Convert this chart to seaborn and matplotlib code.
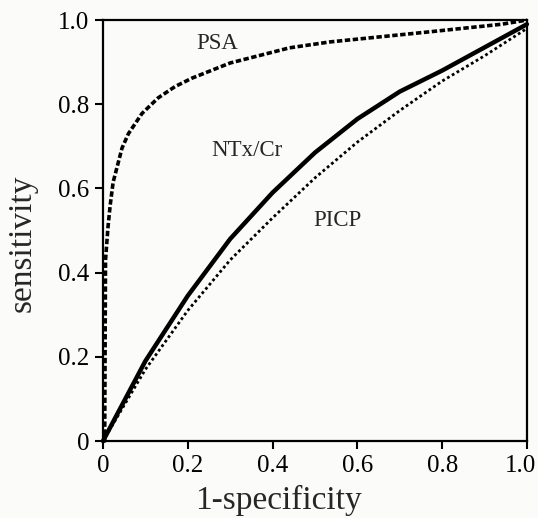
import numpy as np
import pandas as pd
import matplotlib
matplotlib.use("Agg")
import matplotlib.pyplot as plt
import matplotlib.transforms as mtransforms
import seaborn as sns

# ROC curves
psa_fpr = [0.0, 0.004, 0.006, 0.012, 0.017, 0.024, 0.045, 0.06, 0.092, 0.13, 0.17, 0.21, 0.30, 0.44, 0.535, 0.77, 0.94, 1.0]
psa_tpr = [0.0, 0.0, 0.43, 0.51, 0.56, 0.615, 0.696, 0.73, 0.778, 0.815, 0.842, 0.862, 0.898, 0.934, 0.948, 0.972, 0.99, 1.0]

ntx_fpr = [0.0, 0.1, 0.2, 0.3, 0.4, 0.5, 0.6, 0.7, 0.8, 0.9, 1.0]
ntx_tpr = [0.0, 0.19, 0.345, 0.48, 0.59, 0.685, 0.765, 0.83, 0.88, 0.935, 0.99]

picp_fpr = [0.0, 0.1, 0.2, 0.3, 0.4, 0.5, 0.6, 0.7, 0.8, 0.9, 1.0]
picp_tpr = [0.0, 0.17, 0.31, 0.43, 0.53, 0.625, 0.71, 0.785, 0.855, 0.915, 0.98]

tick_vals = [0, 0.2, 0.4, 0.6, 0.8, 1.0]
tick_text = ["0", "0.2", "0.4", "0.6", "0.8", "1.0"]

sns.set_style("ticks")
plt.rcParams['font.family'] = ['Liberation Serif', 'DejaVu Serif']

fig = plt.figure(figsize=(5.38, 5.18), dpi=100, facecolor="#fbfbfa")
ax = fig.add_axes([0.1914, 0.1486, 0.788, 0.8127])
ax.set_facecolor("#fbfbfa")

sns.lineplot(x=psa_fpr, y=psa_tpr, ax=ax, color="black", lw=2.6,
             linestyle=(0, (1.5, 0.7)), sort=False, estimator=None, clip_on=False)
sns.lineplot(x=ntx_fpr, y=ntx_tpr, ax=ax, color="black", lw=3.2,
             sort=False, estimator=None, clip_on=False)
sns.lineplot(x=picp_fpr, y=picp_tpr, ax=ax, color="black", lw=2.0,
             linestyle=(0, (1, 1)), sort=False, estimator=None, clip_on=False)

ax.set_xlim(0, 1)
ax.set_ylim(0, 1)
ax.set_xticks(tick_vals)
ax.set_xticklabels(tick_text)
ax.set_yticks(tick_vals)
ax.set_yticklabels(tick_text)
ax.tick_params(direction="out", length=6, width=1.5, labelsize=18, colors="black", pad=4)

# pull the last x label in a little so it stays on the page
last = ax.get_xticklabels()[-1]
last.set_transform(last.get_transform() + mtransforms.ScaledTranslation(-6 / 100, 0, fig.dpi_scale_trans))

for s in ax.spines.values():
    s.set_linewidth(1.6)
    s.set_color("black")

# curve labels
ax.text(0.269, 0.945, "PSA", fontsize=16.5, ha="center", va="center")
ax.text(0.34, 0.691, "NTx/Cr", fontsize=16.5, ha="center", va="center")
ax.text(0.552, 0.523, "PICP", fontsize=16.5, ha="center", va="center")

ax.set_xlabel("")
ax.set_ylabel("sensitivity", fontsize=24)
ax.yaxis.set_label_coords(-0.155, 0.47)
fig.text(278 / 538, 1 - 500 / 518, "1-specificity", fontsize=24, ha="center", va="center")

fig.savefig("out.png", dpi=100, facecolor=fig.get_facecolor())
